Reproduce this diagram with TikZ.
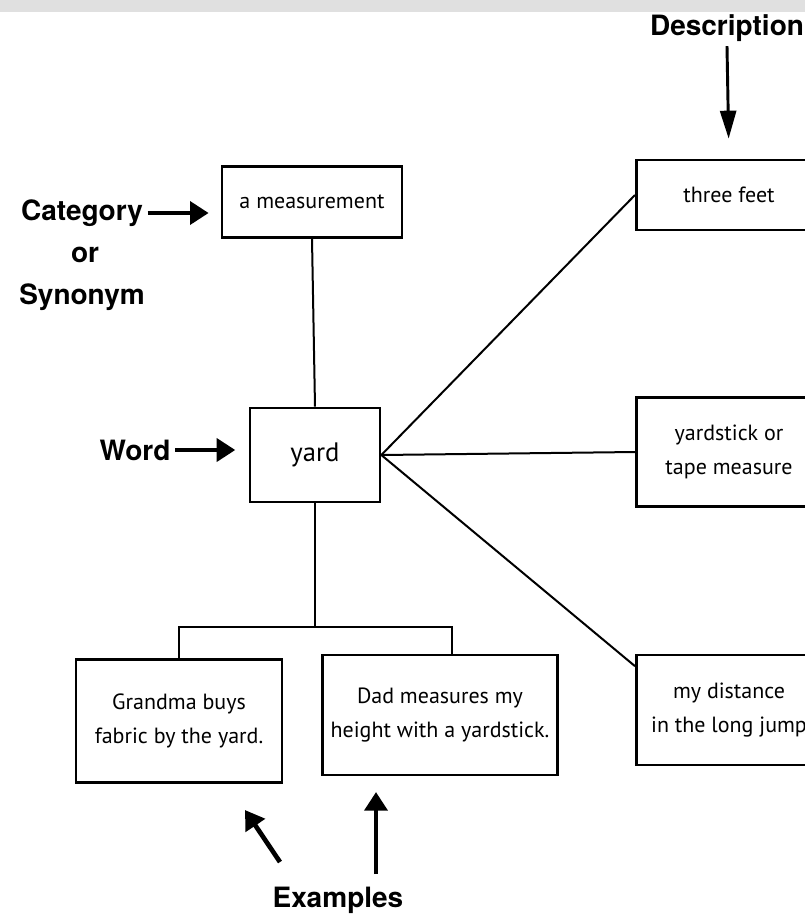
\documentclass[tikz,border=0pt]{standalone}
\usepackage{fontspec}
\setmainfont{TeX Gyre Heros}
\newfontfamily\handfont{PT Sans}
\usetikzlibrary{arrows.meta, positioning, calc}

\begin{document}
\begin{tikzpicture}[x=0.75pt, y=-0.75pt,
    box/.style={draw=black, line width=2pt, fill=white, align=center, inner sep=2pt,
      font=\handfont\fontsize{16.5}{26}\selectfont},
    tag/.style={font=\bfseries\fontsize{21}{25}\selectfont},
    link/.style={line width=1.5pt},
    pointer/.style={line width=3.5pt, -{Triangle[length=14pt, width=17pt]}},
    thinpointer/.style={line width=2.2pt, -{Triangle[length=21pt, width=12pt]}}]

        \useasboundingbox (0, 0) rectangle (805, 922);
        \clip (0, 0) rectangle (805, 922);
        \fill[black!12] (0, 0) rectangle (805, 12);

        % the word and its boxes
        \node[box, minimum width=97.5pt, minimum height=70.5pt, font=\handfont\fontsize{20}{24}\selectfont] (yard) at (315, 455) {yard};
        \node[box, minimum width=135pt, minimum height=53pt] (meas) at (312, 202) {a measurement};
        \node[box, minimum width=139pt, minimum height=52.5pt] (three) at (729, 195) {three feet};
        \node[box, minimum width=139pt, minimum height=82pt] (tape) at (729, 452) {yardstick or\\tape measure};
        \node[box, minimum width=139pt, minimum height=82.5pt] (jump) at (729, 710) {my distance\\in the long jump};
        \node[box, minimum width=154.5pt, minimum height=92pt] (gran) at (179, 721) {Grandma buys\\fabric by the yard.};
        \node[box, minimum width=176pt, minimum height=90pt] (dad) at (440, 715) {Dad measures my\\height with a yardstick.};

        \coordinate (fork) at (315, 627);

        \draw[link] (meas.south) -- (yard.north);
        \draw[link] (yard.east) -- (three.west);
        \draw[link] (yard.east) -- (tape.west);
        \draw[link] (yard.east) -- (jump.155);
        \draw[link] (yard.south) -- (fork);
        \draw[link] (gran.north) |- (fork) -| (dad.79);

        % labels
        \node[tag] (desc) at (727, 28) {Description};
        \node[tag] (cat) at (82, 213) {Category};
        \node[tag] (or) at (85, 255) {or};
        \node[tag] (syn) at (82, 297) {Synonym};
        \node[tag] (word) at (135, 450) {Word};
        \node[tag] (ex) at (338, 900) {Examples};

        \coordinate (exA) at (245, 810);
        \coordinate (exB) at (376, 792);

        \draw[thinpointer, shorten >=15pt] (desc.south) -- (three.north);
        \draw[pointer, shorten >=9pt] (cat.east) -- (cat.east -| meas.west);
        \draw[pointer, shorten >=10pt] (word.east) -- (word.east -| yard.west);
        \draw[pointer] ($(ex.north)+(-58, -20)$) -- (exA);
        \draw[pointer] ($(ex.north)+(38, -8)$) -- (exB);

      \end{tikzpicture}
\end{document}
